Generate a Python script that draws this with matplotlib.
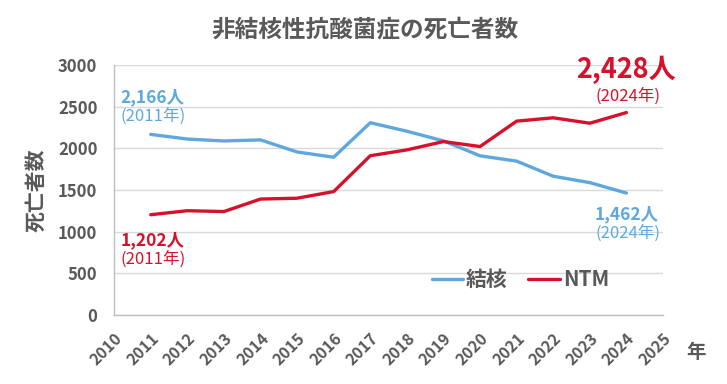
import matplotlib.pyplot as plt

plt.rcParams['font.family'] = ['Noto Sans CJK JP', 'DejaVu Sans']

years = list(range(2011, 2025))
tb = [2166, 2110, 2087, 2100, 1955, 1892, 2306, 2204, 2088, 1909, 1845, 1664, 1587, 1462]
ntm = [1202, 1250, 1240, 1390, 1400, 1480, 1910, 1980, 2080, 2020, 2325, 2365, 2300, 2428]
xticks = list(range(2010, 2026))
yticks = [0, 500, 1000, 1500, 2000, 2500, 3000]

blue = '#5FA8DD'
red = '#D6112B'
gray = '#595959'

fig = plt.figure(figsize=(7.27, 3.84), dpi=100)
ax = fig.add_axes([0.157, 0.180, 0.755, 0.651])

ax.plot(years, tb, color=blue, lw=2.4, label='結核', solid_capstyle='round')
ax.plot(years, ntm, color=red, lw=2.4, label='NTM', solid_capstyle='round')

ax.set_xlim(2010, 2025)
ax.set_ylim(0, 3000)
ax.set_xticks(xticks)
ax.set_yticks(yticks)
ax.set_xticklabels([str(x) for x in xticks], rotation=45, ha='right',
                   rotation_mode='anchor', fontsize=11.5, fontweight='bold', color=gray)
ax.set_yticklabels([str(y) for y in yticks], fontsize=12, fontweight='bold', color=gray)
ax.tick_params(length=0)
ax.tick_params(axis='x', pad=11)
ax.tick_params(axis='y', pad=12)
ax.grid(axis='y', color='#D9D9D9', lw=1)
ax.set_axisbelow(True)
for s in ['top', 'right']:
    ax.spines[s].set_visible(False)
for s in ['left', 'bottom']:
    ax.spines[s].set_color('#BFBFBF')
    ax.spines[s].set_linewidth(1)

ax.set_ylabel('死亡者数', fontsize=15, fontweight='bold', color=gray, labelpad=8)
fig.text(0.958, 0.083, '年', fontsize=14, fontweight='bold', color=gray, ha='center', va='center')
fig.text(0.502, 0.922, '非結核性抗酸菌症の死亡者数', fontsize=17,
         fontweight='bold', color=gray, ha='center', va='center')

# annotations
ax.annotate(f'{tb[0]:,}人', (years[0], tb[0]), xytext=(-21.5, 27), textcoords='offset points',
            fontsize=12.5, fontweight='bold', color=blue, ha='left', va='center')
ax.annotate('(2011年)', (years[0], tb[0]), xytext=(-22, 13), textcoords='offset points',
            fontsize=12, color=blue, ha='left', va='center')
ax.annotate(f'{ntm[0]:,}人', (years[0], ntm[0]), xytext=(-21.5, -18), textcoords='offset points',
            fontsize=12.5, fontweight='bold', color=red, ha='left', va='center')
ax.annotate('(2011年)', (years[0], ntm[0]), xytext=(-22, -32), textcoords='offset points',
            fontsize=12, color=red, ha='left', va='center')
ax.annotate(f'{ntm[-1]:,}人', (years[-1], ntm[-1]), xytext=(0, 31), textcoords='offset points',
            fontsize=19.5, fontweight='bold', color=red, ha='center', va='center')
ax.annotate('(2024年)', (years[-1], ntm[-1]), xytext=(1, 12), textcoords='offset points',
            fontsize=12, color=red, ha='center', va='center')
ax.annotate(f'{tb[-1]:,}人', (years[-1], tb[-1]), xytext=(0, -15), textcoords='offset points',
            fontsize=12.5, fontweight='bold', color=blue, ha='center', va='center')
ax.annotate('(2024年)', (years[-1], tb[-1]), xytext=(1, -29), textcoords='offset points',
            fontsize=12, color=blue, ha='center', va='center')

leg = ax.legend(loc='center', bbox_to_anchor=(0.74, 0.14), ncol=2, frameon=False,
                handlelength=1.5, columnspacing=1.0, handletextpad=0.15,
                prop={'size': 15, 'weight': 'bold'})
for t in leg.get_texts():
    t.set_color(gray)

fig.savefig('out.png', dpi=100)
